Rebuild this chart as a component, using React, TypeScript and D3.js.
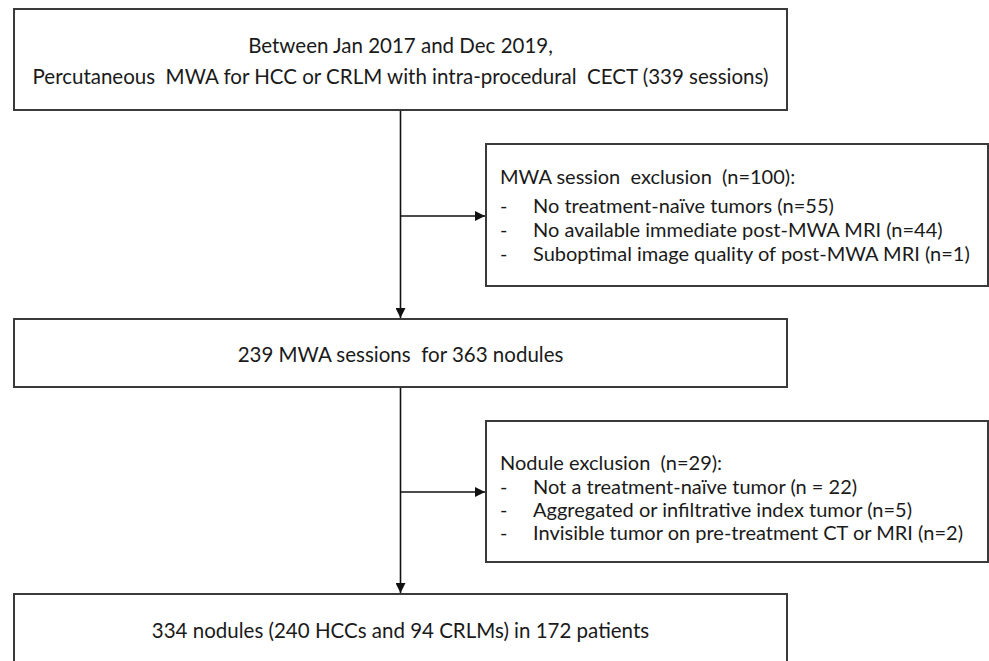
import { useEffect, useRef } from 'react';
import * as d3 from 'd3';

// Flow chart content
const topLines = [
  'Between Jan 2017 and Dec 2019,',
  'Percutaneous  MWA for HCC or CRLM with intra-procedural  CECT (339 sessions)',
];
const sessionTitle = 'MWA session  exclusion  (n=100):';
const sessionItems = [
  'No treatment-naïve tumors (n=55)',
  'No available immediate post-MWA MRI (n=44)',
  'Suboptimal image quality of post-MWA MRI (n=1)',
];
const middleLines = ['239 MWA sessions  for 363 nodules'];
const noduleTitle = 'Nodule exclusion  (n=29):';
const noduleItems = [
  'Not a treatment-naïve tumor (n = 22)',
  'Aggregated or infiltrative index tumor (n=5)',
  'Invisible tumor on pre-treatment CT or MRI (n=2)',
];
const bottomLines = ['334 nodules (240 HCCs and 94 CRLMs) in 172 patients'];

const W = 989;
const H = 661;
const FONT = 'Lato, "Open Sans", sans-serif';

export default function App() {
  const svgRef = useRef<SVGSVGElement>(null);

  useEffect(() => {
    if (!svgRef.current) return;
    const svg = d3.select(svgRef.current);
    svg.selectAll('*').remove();

    svg
      .append('defs')
      .append('marker')
      .attr('id', 'arrow')
      .attr('viewBox', '0 0 10 10')
      .attr('refX', 10)
      .attr('refY', 5)
      .attr('markerUnits', 'userSpaceOnUse')
      .attr('markerWidth', 10)
      .attr('markerHeight', 10)
      .attr('orient', 'auto')
      .append('path')
      .attr('d', 'M0,0 L10,5 L0,10 Z')
      .attr('fill', '#111');

    const mainX = 400.5;

    // connectors first so boxes sit on top
    const lines = svg.append('g').attr('stroke', '#111').attr('stroke-width', 1.6);
    const vert = (y1: number, y2: number) =>
      lines
        .append('line')
        .attr('x1', mainX)
        .attr('x2', mainX)
        .attr('y1', y1)
        .attr('y2', y2)
        .attr('marker-end', 'url(#arrow)');
    const horiz = (y: number, x2: number) =>
      lines
        .append('line')
        .attr('x1', mainX)
        .attr('x2', x2)
        .attr('y1', y)
        .attr('y2', y)
        .attr('marker-end', 'url(#arrow)');

    vert(110, 318);
    horiz(216, 485);
    vert(387, 593);
    horiz(492, 485);

    const box = (x: number, y: number, w: number, h: number) =>
      svg
        .append('rect')
        .attr('x', x)
        .attr('y', y)
        .attr('width', w)
        .attr('height', h)
        .attr('fill', 'none')
        .attr('stroke', '#3a3a3a')
        .attr('stroke-width', 2);

    const centered = (texts: string[], cy: number, gap: number) => {
      const y0 = cy - ((texts.length - 1) * gap) / 2;
      svg
        .append('g')
        .selectAll('text')
        .data(texts)
        .join('text')
        .attr('x', mainX)
        .attr('y', (_, i) => y0 + i * gap)
        .attr('dy', '0.35em')
        .attr('text-anchor', 'middle')
        .attr('font-family', FONT)
        .attr('font-size', 20.5)
        .attr('fill', '#1a1a1a')
        .style('white-space', 'pre')
        .text((d) => d);
    };

    const list = (
      title: string,
      items: string[],
      x: number,
      y: number,
      first: number,
      gap: number
    ) => {
      const g = svg
        .append('g')
        .attr('font-family', FONT)
        .attr('font-size', 20)
        .attr('fill', '#1a1a1a');
      g.append('text')
        .attr('x', x)
        .attr('y', y)
        .attr('dy', '0.35em')
        .style('white-space', 'pre')
        .text(title);
      g.selectAll('.dash')
        .data(items)
        .join('text')
        .attr('class', 'dash')
        .attr('x', x)
        .attr('y', (_, i) => y + first + i * gap)
        .attr('dy', '0.35em')
        .text('-');
      g.selectAll('.item')
        .data(items)
        .join('text')
        .attr('class', 'item')
        .attr('x', x + 33)
        .attr('y', (_, i) => y + first + i * gap)
        .attr('dy', '0.35em')
        .text((d) => d);
    };

    box(14, 9, 773, 101);
    centered(topLines, 61, 31);

    box(486, 144, 502, 142);
    list(sessionTitle, sessionItems, 500, 177, 29, 24);

    box(14, 319, 773, 68);
    centered(middleLines, 355, 0);

    box(486, 421, 502, 141);
    list(noduleTitle, noduleItems, 500, 463, 24, 23);

    box(14, 594, 773, 80);
    centered(bottomLines, 631, 0);
  }, []);

  return (
    <svg
      ref={svgRef}
      width={W}
      height={H}
      style={{ position: 'absolute', left: 0, top: 0, background: '#fff' }}
    />
  );
}
